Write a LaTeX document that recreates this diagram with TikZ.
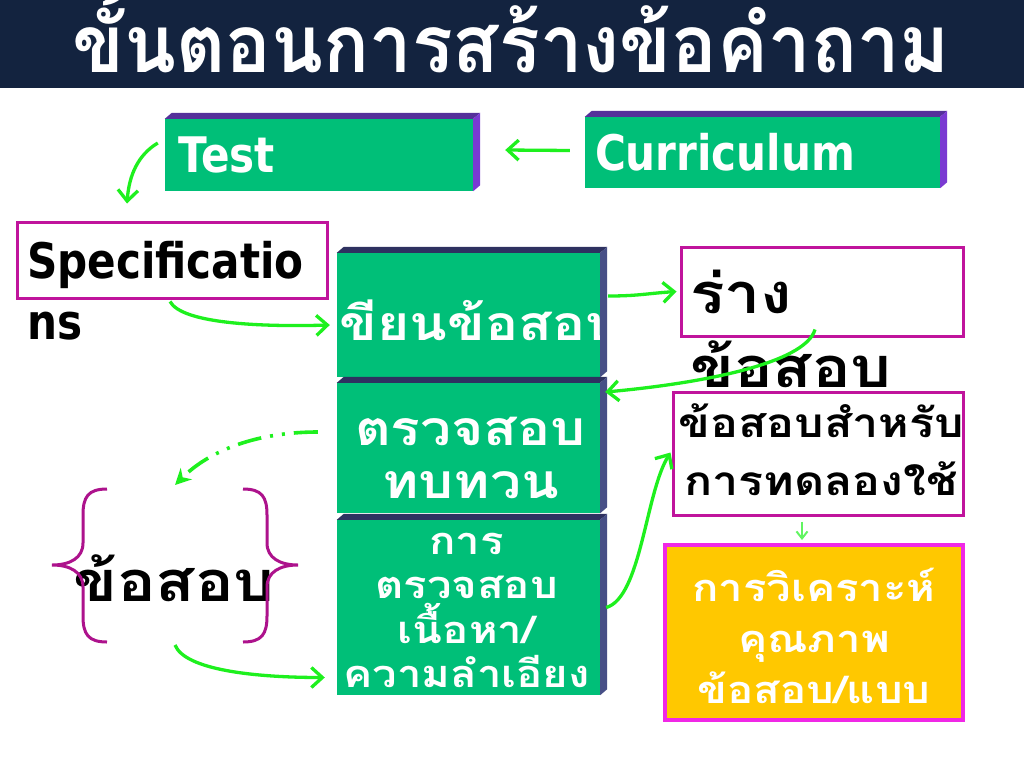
\documentclass[tikz,border=0pt]{standalone}
\usepackage{fontspec}
\setmainfont[FakeStretch=0.86]{DejaVu Sans}
\newfontfamily\thaifont[Script=Thai, FakeStretch=1.15]{Loma}
\newfontfamily\titlefont[Script=Thai, FakeStretch=0.95]{Loma}
\usetikzlibrary{positioning,arrows.meta,calc}
\definecolor{titlenavy}{HTML}{13233F}
\definecolor{stepgreen}{HTML}{00BF78}
\definecolor{lidpurple}{HTML}{55309A}
\definecolor{sidepurple}{HTML}{7A3AD2}
\definecolor{lidnavy}{HTML}{2E3160}
\definecolor{sidenavy}{HTML}{474F86}
\definecolor{framepink}{HTML}{C0149C}
\definecolor{goldfill}{HTML}{FFC800}
\definecolor{goldedge}{HTML}{F028E6}
\definecolor{arrowgreen}{HTML}{1EF01E}
\tikzset{
  flowarrow/.style={-{Straight Barb[length=11pt,width=20pt]}, line width=3.3pt, arrowgreen},
  dotarrow/.style={-{Stealth[length=16pt,width=16pt]}, line width=3.6pt, arrowgreen, dash pattern=on 24pt off 9pt on 3pt off 9pt on 3pt off 9pt},
  tinyarrow/.style={-{Straight Barb[length=7pt,width=11pt]}, line width=2pt, arrowgreen!70!white},
  stepnode/.style={fill=stepgreen, text=white, inner sep=0pt},
  framenode/.style={draw=framepink, line width=3pt, fill=white, inner sep=0pt},
  goldnode/.style={draw=goldedge, line width=4pt, fill=goldfill, inner sep=0pt},
  bracepath/.style={draw=framepink!90!black, line width=3pt},
  latintext/.style={font=\bfseries\fontsize{49}{61}\selectfont},
  thaibig/.style={font=\thaifont\bfseries\fontsize{56}{74}\selectfont},
  thaimid/.style={font=\thaifont\bfseries\fontsize{48}{53}\selectfont},
  thaismall/.style={font=\thaifont\bfseries\fontsize{38}{44.5}\selectfont}
}
\begin{document}
\begin{tikzpicture}[x=1pt, y=-1pt]
  \useasboundingbox (0,0) rectangle (1024,768);
  \fill[white] (0,0) rectangle (1024,768);
  \fill[titlenavy] (0,0) rectangle (1024,88);
  \node[text=white, font=\titlefont\bfseries\fontsize{80}{90}\selectfont, anchor=base, inner sep=0pt] (title) at (511,72) {ขั้นตอนการสร้างข้อคำถาม};

  % top row
  \node[stepnode, latintext, minimum height=72, text width=282, inner xsep=13, align=left] (test) at (319,155) {Test};
  \node[stepnode, latintext, minimum height=71, text width=335, inner xsep=10, align=left] (curr) at (762.5,152.5) {Curriculum};
  \fill[lidpurple] (test.north west) -- ++(7,-6) -- ([shift={(7,-6)}]test.north east) -- (test.north east) -- cycle;
  \fill[sidepurple] (test.north east) -- ++(7,-6) -- ([shift={(7,-6)}]test.south east) -- (test.south east) -- cycle;
  \fill[lidpurple] (curr.north west) -- ++(7,-6) -- ([shift={(7,-6)}]curr.north east) -- (curr.north east) -- cycle;
  \fill[sidepurple] (curr.north east) -- ++(7,-6) -- ([shift={(7,-6)}]curr.south east) -- (curr.south east) -- cycle;

  % left column
  \node[framenode, minimum width=310, minimum height=76] (spec) at (172,260) {};
  \node[latintext, anchor=base west, align=left, inner sep=0pt] (spectext) at (27,339) {Specificatio\\ns};
  \node[thaibig, anchor=base, inner sep=0pt] (exam) at (174,601) {ข้อสอบ};
  \path[bracepath] (107,489) .. controls (88,489) and (83,497) .. (83,515) -- (83,543)
    .. controls (83,558) and (70,565) .. (52,565) .. controls (70,565) and (83,572) .. (83,587)
    -- (83,616) .. controls (83,634) and (88,642) .. (107,642);
  \path[bracepath] (243,489) .. controls (262,489) and (267,497) .. (267,515) -- (267,543)
    .. controls (267,558) and (280,565) .. (298,565) .. controls (280,565) and (267,572) .. (267,587)
    -- (267,616) .. controls (267,634) and (262,642) .. (243,642);

  % middle stack
  \node[stepnode, minimum width=263, minimum height=124] (wr) at (468.5,315) {};
  \node[stepnode, minimum width=263, minimum height=130] (rev) at (468.5,448) {};
  \node[stepnode, minimum width=263, minimum height=175] (cont) at (468.5,607.5) {};
  \begin{scope}
    \clip (wr.north west) rectangle (wr.south east);
    \node[thaimid, text=white, anchor=base, inner sep=0pt] (wrtext) at ([shift={(2,25)}]wr.center) {เขียนข้อสอบ};
  \end{scope}
  \node[thaimid, text=white, anchor=base, align=center, inner sep=0pt] (revtext) at ([shift={(2,50)}]rev.center) {ตรวจสอบ\\ทบทวน};
  \node[thaismall, text=white, anchor=base, align=center, inner sep=0pt] (conttext) at ([shift={(-2,80)}]cont.center) {การ\\ตรวจสอบ\\เนื้อหา/\\ความลำเอียง};
  \fill[lidnavy] (wr.north west) -- ++(7,-6) -- ([shift={(7,-6)}]wr.north east) -- (wr.north east) -- cycle;
  \fill[sidenavy] (wr.north east) -- ++(7,-6) -- ([shift={(7,-6)}]wr.south east) -- (wr.south east) -- cycle;
  \fill[lidnavy] (rev.north west) -- ++(7,-6) -- ([shift={(7,-6)}]rev.north east) -- (rev.north east) -- cycle;
  \fill[sidenavy] (rev.north east) -- ++(7,-6) -- ([shift={(7,-6)}]rev.south east) -- (rev.south east) -- cycle;
  \fill[lidnavy] (cont.north west) -- ++(7,-6) -- ([shift={(7,-6)}]cont.north east) -- (cont.north east) -- cycle;
  \fill[sidenavy] (cont.north east) -- ++(7,-6) -- ([shift={(7,-6)}]cont.south east) -- (cont.south east) -- cycle;

  % right column
  \node[framenode, minimum width=282, minimum height=89] (draft) at (822,291.5) {};
  \node[thaibig, anchor=base west, align=left, inner sep=0pt] (drafttext) at (690,387) {ร่าง\\ข้อสอบ};
  \node[framenode, minimum width=290, minimum height=123] (trial) at (818,453.5) {};
  \node[font=\thaifont\bfseries\fontsize{40.5}{58}\selectfont, anchor=base, align=center, inner sep=0pt] (trialtext) at ([shift={(3,41.5)}]trial.center) {ข้อสอบสำหรับ\\การทดลองใช้};
  \node[goldnode, minimum width=298, minimum height=175] (gold) at (814,632.5) {};
  \node[font=\thaifont\bfseries\fontsize{38}{51}\selectfont, text=white, anchor=base, align=center, inner sep=0pt] (goldtext) at ([shift={(0,70.5)}]gold.center) {การวิเคราะห์\\คุณภาพ\\ข้อสอบ/แบบ};

  % connectors
  \draw[flowarrow] ([shift={(-15,-2)}]curr.west) -- ([shift={(32,-5)}]test.east);
  \draw[flowarrow] ([shift={(-7,-12)}]test.west) .. controls +(-20,12) and +(2,-28) .. ([shift={(-45,-17)}]spec.north);
  \draw[flowarrow] ([shift={(-2,2)}]spec.south) .. controls +(12,22) and +(-70,2) .. ([shift={(-7,10)}]wr.west);
  \draw[flowarrow] ([shift={(8,-19)}]wr.east) .. controls +(30,0) and +(-30,2) .. ([shift={(-3,0)}]draft.west);
  \draw[flowarrow] ([shift={(-7,-8)}]draft.south) .. controls +(-10,35) and +(90,-8) .. ([shift={(5,-56)}]rev.east);
  \draw[flowarrow] ([shift={(6,0)}]cont.east) .. controls +(35,-10) and +(-25,40) .. ([shift={(-1,-1)}]trial.west);
  \draw[tinyarrow] ([shift={(-16,5)}]trial.south) -- ([shift={(-12,-3)}]gold.north);
  \draw[dotarrow] ([shift={(-19,-16)}]rev.west) .. controls +(-60,0) and +(35,-35) .. ([shift={(1,-116)}]exam.base);
  \draw[flowarrow] ([shift={(1,44)}]exam.base) .. controls +(10,25) and +(-70,0) .. ([shift={(-12,70)}]cont.west);
\end{tikzpicture}
\end{document}
